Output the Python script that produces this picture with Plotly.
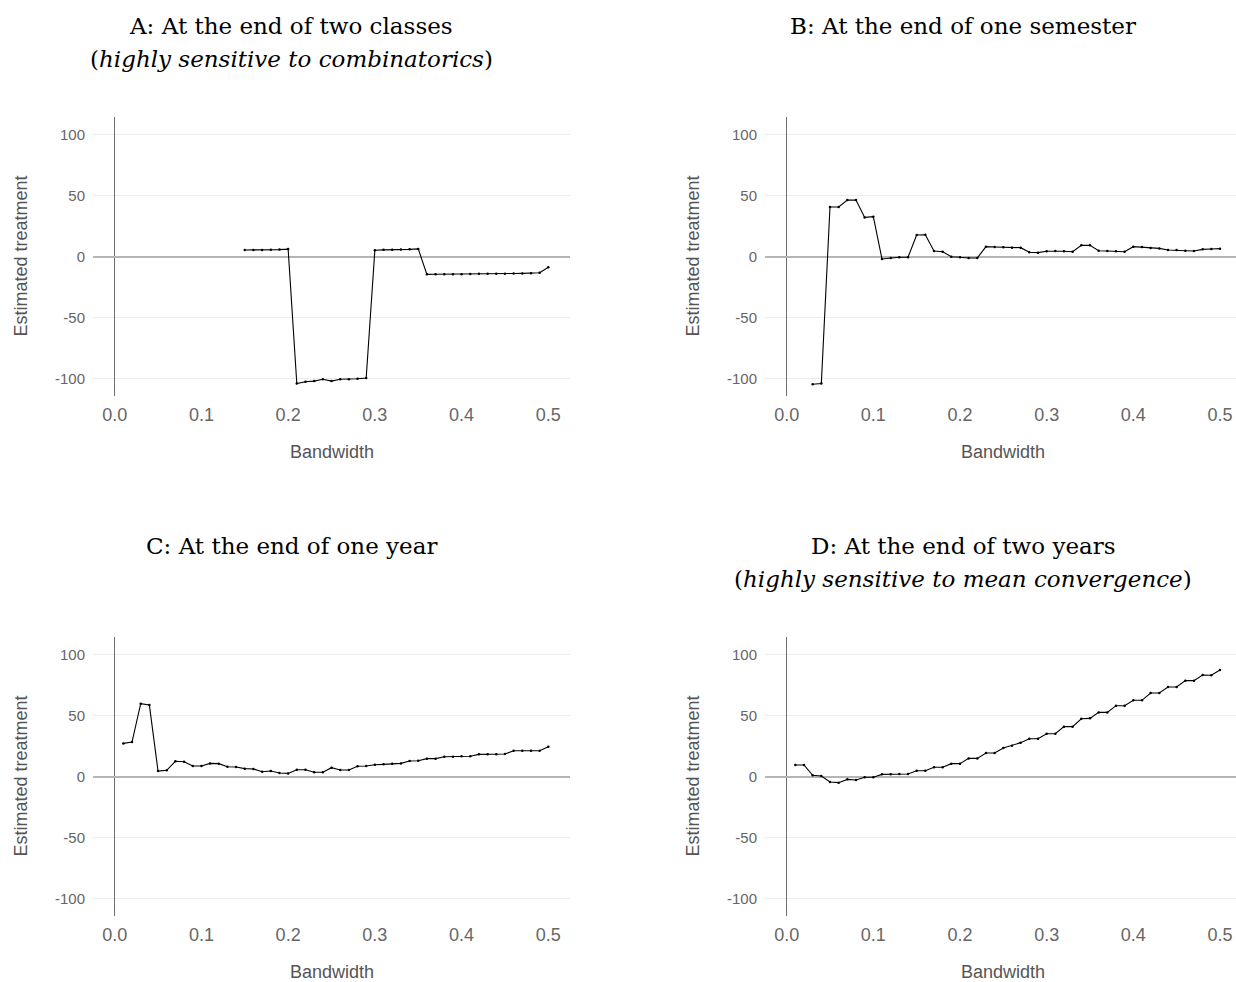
import plotly.graph_objects as go

W, H = 1236, 982

bw = [round(0.01 * k, 2) for k in range(1, 51)]

# Panel A: bandwidth 0.15 .. 0.50
a_x = bw[14:]
a_y = [5.5, 5.5, 5.5, 5.7, 5.8, 6.2,
       -104, -102.5, -102, -100.5, -102, -100.5, -100.5, -100, -99.5,
       5.3, 5.6, 5.6, 5.8, 6.0, 6.4,
       -14.5, -14.4, -14.4, -14.3, -14.3, -14.2, -14.0, -13.9, -14.0, -13.9, -13.8, -13.7, -13.5, -13.2, -8.6]

# Panel B: bandwidth 0.03 .. 0.50
b_x = bw[2:]
b_y = [-104.6, -104.0, 40.7, 40.7, 46.4, 46.4, 32.2, 32.8, -1.9, -1.1, -0.5, -0.5,
       17.8, 18.0, 4.6, 4.1, 0.0, -0.5, -1.1, -1.0, 8.2, 7.9, 7.7, 7.4, 7.4,
       3.6, 3.3, 4.4, 4.6, 4.4, 4.1, 9.3, 9.3, 4.9, 4.6, 4.4, 4.1,
       8.2, 7.9, 7.1, 6.8, 5.5, 5.5, 4.9, 4.6, 6.0, 6.3, 6.6]

# Panel C: bandwidth 0.01 .. 0.50
c_x = bw
c_y = [27.3, 28.4, 59.8, 58.7, 4.6, 5.2, 12.6, 12.3, 8.7, 8.7, 10.9, 10.7, 8.2, 7.9,
       6.6, 6.3, 4.1, 4.6, 3.0, 2.7, 5.7, 5.7, 3.6, 3.6, 7.4, 5.5, 5.5, 8.5, 8.7,
       9.8, 10.1, 10.7, 10.9, 12.8, 13.1, 14.8, 14.8, 16.4, 16.4, 16.7, 16.7,
       18.3, 18.3, 18.3, 18.6, 21.3, 21.3, 21.3, 21.3, 24.6]

# Panel D: bandwidth 0.01 .. 0.50
d_x = bw
d_y = [9.6, 9.6, 1.1, 0.5, -4.4, -4.9, -2.2, -2.7, -0.5, -0.5, 1.9, 1.9, 2.2, 2.2,
       4.9, 4.9, 7.7, 7.7, 10.7, 10.7, 15.0, 15.0, 19.4, 19.4, 23.5, 25.4, 27.9,
       31.1, 31.1, 35.2, 35.2, 41.0, 41.0, 47.5, 47.8, 52.7, 52.7, 58.2, 58.2,
       62.6, 62.6, 68.6, 68.6, 73.5, 73.5, 78.7, 78.7, 83.3, 83.1, 87.4]

y_ticks = [-100, -50, 0, 50, 100]
x_ticks = [0.0, 0.1, 0.2, 0.3, 0.4, 0.5]
x_tick_text = ["0.0", "0.1", "0.2", "0.3", "0.4", "0.5"]

titles = [
    ("A: At the end of two classes", "(<i>highly sensitive to combinatorics</i>)"),
    ("B: At the end of one semester", None),
    ("C: At the end of one year", None),
    ("D: At the end of two years", "(<i>highly sensitive to mean convergence</i>)"),
]

# panel pixel boxes: (left, right, top, bottom)
boxes = [(93, 570, 117, 396), (765, 1236, 117, 396),
         (93, 570, 637, 916), (765, 1236, 637, 916)]
x_ranges = [[-0.025, 0.525], [-0.025, 0.5185], [-0.025, 0.525], [-0.025, 0.5185]]
title_cx = [291, 963, 291, 963]

series = [(a_x, a_y), (b_x, b_y), (c_x, c_y), (d_x, d_y)]

SANS = "Liberation Sans, Arial, sans-serif"
SERIF = "DejaVu Serif, serif"

fig = go.Figure()
annotations = []

def px_x(p):
    return p / W

def px_y(p):
    return 1 - p / H

for i, ((xs, ys), (l, r, t, b)) in enumerate(zip(series, boxes)):
    n = i + 1
    xa = "x" if n == 1 else f"x{n}"
    ya = "y" if n == 1 else f"y{n}"
    fig.add_trace(go.Scatter(
        x=xs, y=ys, mode="lines+markers", xaxis=xa, yaxis=ya,
        line=dict(color="black", width=1.1),
        marker=dict(color="black", size=2.5),
        showlegend=False, hoverinfo="x+y"))
    xkey = "xaxis" if n == 1 else f"xaxis{n}"
    ykey = "yaxis" if n == 1 else f"yaxis{n}"
    fig.layout[xkey] = dict(
        domain=[px_x(l), px_x(r)], range=x_ranges[i], anchor=ya,
        tickvals=x_ticks, ticktext=x_tick_text, showgrid=False,
        zeroline=True, zerolinecolor="#6e6e6e", zerolinewidth=1,
        showline=False, ticks="", ticklabelstandoff=6,
        tickfont=dict(family=SANS, size=18, color="#666666"))
    fig.layout[ykey] = dict(
        domain=[px_y(b), px_y(t)], range=[-114.2, 114.5], anchor=xa,
        tickvals=y_ticks, ticktext=[str(v) for v in y_ticks],
        showgrid=True, gridcolor="#ececec", gridwidth=1,
        zeroline=True, zerolinecolor="#b5b5b5", zerolinewidth=1.5,
        showline=False, ticks="", ticklabelstandoff=7,
        tickfont=dict(family=SANS, size=15, color="#666666"))
    # axis titles
    annotations.append(dict(
        text="Bandwidth", x=px_x((l + (570 if r == 570 else 1241)) / 2), y=px_y(b + 56),
        xref="paper", yref="paper", showarrow=False, xanchor="center", yanchor="middle",
        font=dict(family=SANS, size=18, color="#555555")))
    annotations.append(dict(
        text="Estimated treatment", x=px_x(l - 73), y=px_y((t + b) / 2),
        xref="paper", yref="paper", showarrow=False, xanchor="center", yanchor="middle",
        textangle=-90,
        font=dict(family=SANS, size=18, color="#555555")))
    # titles
    line1, line2 = titles[i]
    ty = 26 if i < 2 else 546
    annotations.append(dict(
        text=line1, x=px_x(title_cx[i]), y=px_y(ty),
        xref="paper", yref="paper", showarrow=False, xanchor="center", yanchor="middle",
        font=dict(family=SERIF, size=23, color="black")))
    if line2:
        annotations.append(dict(
            text=line2, x=px_x(title_cx[i]), y=px_y(ty + 33),
            xref="paper", yref="paper", showarrow=False, xanchor="center", yanchor="middle",
            font=dict(family=SERIF, size=23, color="black")))

fig.update_layout(
    width=W, height=H, margin=dict(l=0, r=0, t=0, b=0),
    paper_bgcolor="white", plot_bgcolor="white",
    annotations=annotations, showlegend=False)

fig.write_html("out.html")
